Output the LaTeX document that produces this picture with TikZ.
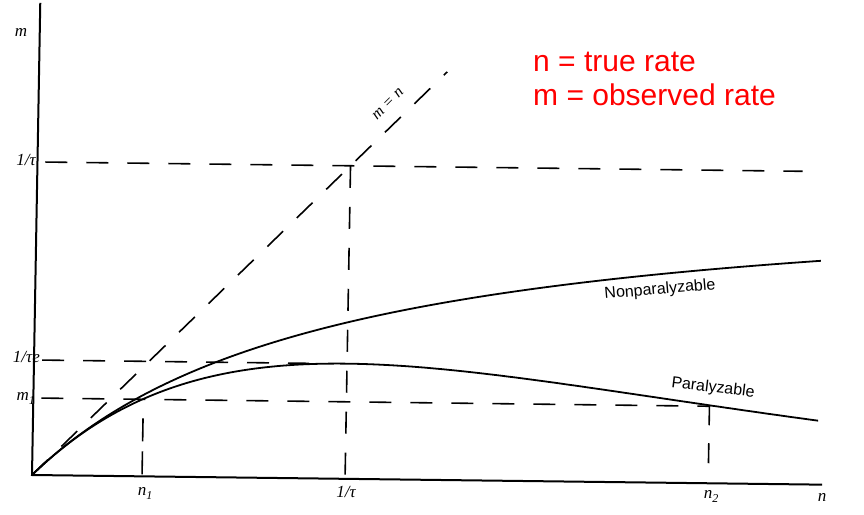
\documentclass[tikz,border=0pt]{standalone}
\usepackage{fontspec}
\newfontfamily\arialfont{Liberation Sans}
\newfontfamily\labelfont{Liberation Serif}
\newcommand\labsub[1]{\raisebox{-4pt}{\fontsize{12}{13}\selectfont #1}}
\begin{document}
\begin{tikzpicture}[x=1pt,y=1pt,
  axisline/.style={line width=2pt},
  dashline/.style={line width=1.6pt, dash pattern=on 22pt off 19pt},
  curveline/.style={line width=1.8pt},
  axlabel/.style={font=\labelfont\itshape\fontsize{17}{19}\selectfont, inner sep=0pt},
  curvelabel/.style={font=\arialfont\fontsize{16}{18}\selectfont, inner sep=0pt},
  notelabel/.style={font=\arialfont\fontsize{30}{34}\selectfont, text=red, inner sep=0pt, anchor=base west}]
\useasboundingbox (0,0) rectangle (864,514);
\begin{scope}[cm={1,-0.0122,0.0175,1,(32,39)}]
  \coordinate (O) at (0,0);
  \coordinate (ytop) at (0,472);
  \coordinate (xend) at (790,0);
  \coordinate (diagend) at (408,408);
  \coordinate (tauL) at (8,313);
  \coordinate (tauR) at (765,313);
  \coordinate (tauP) at (313,313);
  \coordinate (tauB) at (313,0);
  \coordinate (teL) at (8,115);
  \coordinate (teR) at (275,115);
  \coordinate (m1L) at (8,77);
  \coordinate (m1R) at (676,77);
  \coordinate (n1T) at (110,58);
  \coordinate (n1B) at (110,0);
  \coordinate (n2T) at (676,78);
  \coordinate (n2B) at (676,18);
  \draw[axisline] (ytop) -- (O) -- (xend);
  \draw[dashline] (O) -- (diagend);
  \draw[dashline] (tauL) -- (tauR);
  \draw[dashline] (tauP) -- (tauB);
  \draw[dashline] (teL) -- (teR);
  \draw[dashline] (m1L) -- (m1R);
  \draw[dashline, dash pattern=on 23pt off 10pt] (n1T) -- (n1B);
  \draw[dashline, dash pattern=on 20pt off 18pt] (n2T) -- (n2B);
  \draw[curveline] plot[domain=0:785, samples=120, smooth] (\x, {\x/(1+\x/313)});
  \draw[curveline] plot[domain=0:785, samples=120, smooth] (\x, {\x*exp(-\x/313)});
\end{scope}
\node[axlabel] (lm) at (21,481) {m};
\node[axlabel, anchor=east] (ltau) at (36,354) {1/τ};
\node[axlabel, anchor=east] (ltaue) at (40,157) {1/τe};
\node[axlabel, anchor=east] (lm1) at (35,116) {m\labsub{1}};
\node[axlabel] (ln1) at (145,21) {n\labsub{1}};
\node[axlabel] (ltaub) at (346,22) {1/τ};
\node[axlabel] (ln2) at (711,18) {n\labsub{2}};
\node[axlabel] (ln) at (822,17) {n};
\node[axlabel, font=\labelfont\itshape\fontsize{16}{17}\selectfont, rotate=45] (lmn) at (388,410) {m = n};
\node[curvelabel, rotate=5] (lnon) at (660,224) {Nonparalyzable};
\node[curvelabel, rotate=-7] (lpar) at (713,126) {Paralyzable};
\node[notelabel] (note1) at (533,442) {n = true rate};
\node[notelabel] (note2) at (533,408) {m = observed rate};
\end{tikzpicture}
\end{document}
